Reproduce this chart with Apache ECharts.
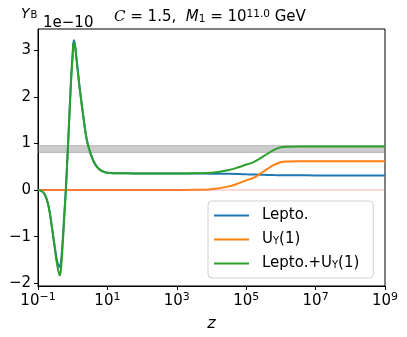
<!DOCTYPE html>
<html>
<head>
<meta charset="utf-8">
<script src="https://cdn.jsdelivr.net/npm/echarts@6/dist/echarts.min.js"></script>
<style>
  html, body { margin: 0; padding: 0; background: #fff; }
  #chart { width: 407px; height: 337px; }
</style>
</head>
<body>
<div id="chart"></div>
<script>
// x positions are log10(z)
const logZ = [-1.0, -0.9, -0.8, -0.7, -0.6, -0.5, -0.45, -0.4, -0.37, -0.34, -0.3, -0.25, -0.2, -0.15, -0.1, -0.05,
  0.0, 0.03, 0.06, 0.1, 0.15, 0.2, 0.3, 0.4, 0.5, 0.6, 0.7, 0.8, 0.9, 1.0, 1.2, 1.5, 2.0, 3.0, 3.5,
  4.0, 4.5, 4.8, 5.0, 5.2, 5.4, 5.6, 5.8, 6.0, 6.2, 6.5, 7.0, 8.0, 9.0]

// Y_B in units of 1e-10
const lepto = [0, -0.02, -0.1, -0.33, -0.78, -1.3, -1.52, -1.63, -1.65, -1.55, -1.2, -0.6, 0.0, 0.75, 1.55, 2.35,
  2.95, 3.22, 3.15, 2.9, 2.55, 2.2, 1.62, 1.1, 0.82, 0.62, 0.5, 0.43, 0.39, 0.37, 0.362, 0.36, 0.358, 0.355, 0.355,
  0.353, 0.35, 0.345, 0.34, 0.335, 0.33, 0.325, 0.322, 0.32, 0.318, 0.317, 0.316, 0.315, 0.315]
const uy1 = [0, 0, 0, 0, 0, 0, 0, 0, 0, 0, 0, 0, 0, 0, 0, 0,
  0, 0, 0, 0, 0, 0, 0, 0, 0, 0, 0, 0, 0, 0, 0, 0, 0, 0, 0.005,
  0.02, 0.08, 0.15, 0.21, 0.26, 0.35, 0.45, 0.54, 0.6, 0.615, 0.62, 0.62, 0.62, 0.62]
const leptoUy1 = [0, -0.02, -0.1, -0.33, -0.8, -1.35, -1.6, -1.78, -1.83, -1.72, -1.32, -0.68, -0.05, 0.7, 1.5, 2.3,
  2.9, 3.17, 3.12, 2.88, 2.53, 2.19, 1.61, 1.1, 0.82, 0.62, 0.5, 0.43, 0.39, 0.37, 0.362, 0.36, 0.358, 0.355, 0.36,
  0.373, 0.43, 0.495, 0.55, 0.595, 0.68, 0.775, 0.862, 0.92, 0.933, 0.937, 0.936, 0.935, 0.935]

const observedBand = [0.81, 0.955]
const xTicks = [-1, 1, 3, 5, 7, 9]
const yTicks = [-2, -1, 0, 1, 2, 3]
const seriesNames = ['Lepto.', 'U_Y(1)', 'Lepto.+U_Y(1)']

const FONT = 'DejaVu Sans'
const chart = echarts.init(document.getElementById('chart'))

function pairs(ys) {
  return logZ.map((x, i) => [x, ys[i]])
}
function minus(s) {
  return String(s).replace('-', '\u2212')
}
const legendText = {
  'Lepto.': 'Lepto.',
  'U_Y(1)': 'U{sub|Y}(1)',
  'Lepto.+U_Y(1)': 'Lepto.+U{sub|Y}(1)'
}

function lineSeries(name, ys, color, z) {
  return {
    name: name,
    type: 'line',
    data: pairs(ys),
    symbol: 'none',
    smooth: 0.4,
    z: z,
    lineStyle: { color: color, width: 2 },
    itemStyle: { color: color },
    animation: false
  }
}

chart.setOption({
  animation: false,
  title: [{
    text: '{c|C}{t| = 1.5,  }{m|M}{s|1}{t| = 10}{p|11.0}{t| GeV}',
    left: 109,
    top: 4,
    textStyle: {
      rich: {
        c: { fontFamily: 'DejaVu Serif', fontStyle: 'italic', fontWeight: 'normal', fontSize: 15, color: '#000' },
        t: { fontFamily: FONT, fontWeight: 'normal', fontSize: 15, color: '#000' },
        m: { fontFamily: FONT, fontStyle: 'italic', fontWeight: 'normal', fontSize: 15, color: '#000' },
        s: { fontFamily: FONT, fontWeight: 'normal', fontSize: 10.5, color: '#000', padding: [0, 0, -3, 0] },
        p: { fontFamily: FONT, fontWeight: 'normal', fontSize: 10.5, color: '#000', padding: [0, 0, 6, 0] }
      }
    }
  }, {
    text: '{y|Y}{b|B}',
    left: 16,
    top: 2,
    textStyle: {
      rich: {
        y: { fontFamily: FONT, fontStyle: 'italic', fontWeight: 'normal', fontSize: 14, color: '#000' },
        b: { fontFamily: FONT, fontWeight: 'normal', fontSize: 10, color: '#000', padding: [0, 0, -3, 1] }
      }
    }
  }, {
    text: '1e\u221210',
    left: 38,
    top: 11,
    textStyle: { fontFamily: FONT, fontSize: 15, fontWeight: 'normal', color: '#000' }
  }],
  legend: {
    orient: 'vertical',
    left: 208,
    top: 201,
    data: seriesNames,
    icon: 'rect',
    itemWidth: 35,
    itemHeight: 2,
    itemGap: 7,
    padding: [6, 14, 6, 6],
    borderColor: '#d0d0d0',
    borderWidth: 1,
    borderRadius: 4,
    backgroundColor: 'rgba(255,255,255,0.8)',
    formatter: name => legendText[name],
    textStyle: {
      fontFamily: FONT,
      fontSize: 15,
      lineHeight: 17,
      color: '#000',
      padding: [0, 0, 0, 8],
      rich: {
        sub: { fontFamily: FONT, fontSize: 10, color: '#000', padding: [0, 0, -4, 0] }
      }
    }
  },
  grid: {
    left: 38,
    top: 29,
    width: 347,
    height: 257,
    show: true,
    borderColor: '#000',
    borderWidth: 1,
    backgroundColor: 'transparent'
  },
  xAxis: {
    type: 'value',
    min: -1,
    max: 9,
    name: 'z',
    nameLocation: 'middle',
    nameGap: 30,
    nameTextStyle: { fontFamily: FONT, fontStyle: 'italic', fontSize: 16, color: '#000' },
    axisLine: { show: true, onZero: false, lineStyle: { color: '#000', width: 1 } },
    axisTick: { show: true, customValues: xTicks, length: 4, lineStyle: { color: '#000' } },
    splitLine: { show: false },
    axisLabel: {
      customValues: xTicks,
      margin: 6,
      formatter: v => '{b|10}{p|' + minus(v) + '}',
      rich: {
        b: { fontFamily: FONT, fontSize: 15, color: '#000' },
        p: { fontFamily: FONT, fontSize: 11, color: '#000', padding: [0, 0, 7, 0] }
      }
    }
  },
  yAxis: {
    type: 'value',
    min: -2.06,
    max: 3.46,
    axisLine: { show: true, onZero: false, lineStyle: { color: '#000', width: 1 } },
    axisTick: { show: true, customValues: yTicks, length: 4, lineStyle: { color: '#000' } },
    splitLine: { show: false },
    axisLabel: {
      customValues: yTicks,
      margin: 7,
      fontFamily: FONT,
      fontSize: 15,
      color: '#000',
      formatter: v => minus(v)
    }
  },
  series: [
    {
      name: 'bands',
      type: 'line',
      data: [],
      z: 1,
      silent: true,
      markArea: {
        silent: true,
        itemStyle: { color: 'rgba(128,128,128,0.4)', borderColor: 'rgba(110,110,110,0.5)', borderWidth: 0.8 },
        data: [[{ yAxis: observedBand[0] }, { yAxis: observedBand[1] }]]
      },
      markLine: {
        silent: true,
        symbol: 'none',
        label: { show: false },
        lineStyle: { color: 'rgba(240,120,120,0.4)', width: 1.5, type: 'solid' },
        data: [{ yAxis: 0 }]
      }
    },
    lineSeries(seriesNames[0], lepto, '#1f77b4', 3),
    lineSeries(seriesNames[1], uy1, '#ff7f0e', 4),
    lineSeries(seriesNames[2], leptoUy1, '#2ca02c', 5)
  ]
})
</script>
</body>
</html>
